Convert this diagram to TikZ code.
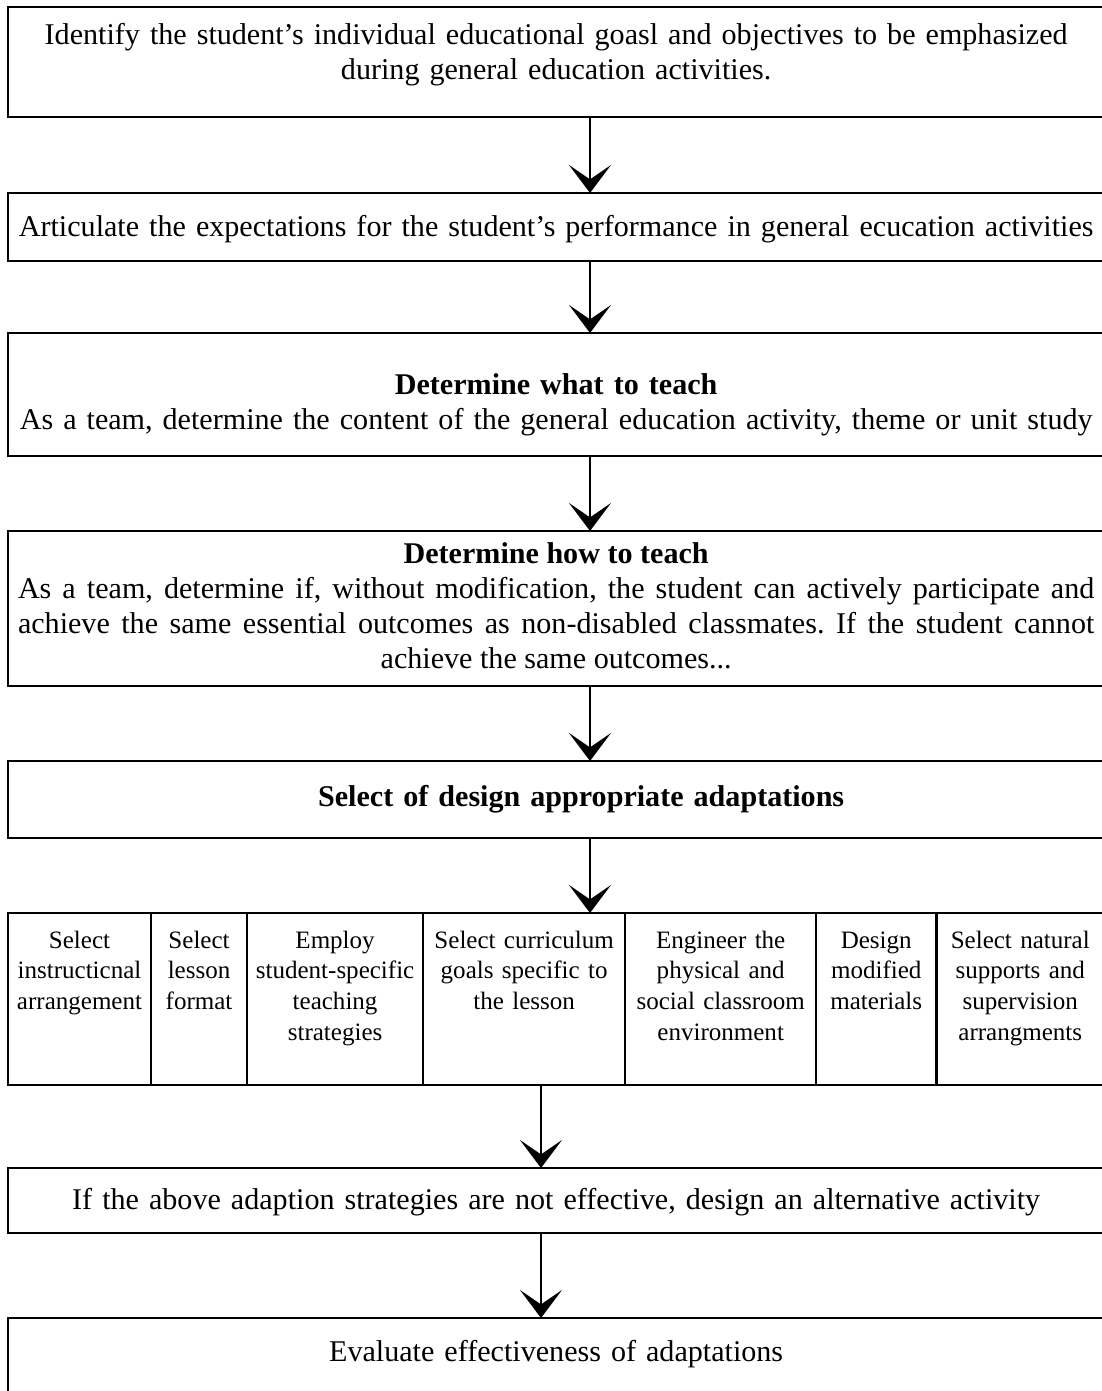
\documentclass[tikz,border=0pt]{standalone}
\usepackage{fontspec}
\setmainfont{Liberation Serif}
\usetikzlibrary{arrows.meta,positioning}
\frenchspacing

\newcommand{\boxfont}{\fontsize{21.4}{24.9}\selectfont}
\newcommand{\cellfont}{\fontsize{17.8}{22}\selectfont}
\newcommand{\lastcentred}{\leftskip=0pt plus .5fil\rightskip=0pt plus -.5fil\parfillskip=0pt plus 1fil\relax}

\tikzset{
  stage/.style={draw, line width=1.8pt, anchor=north west, inner sep=0pt, outer sep=0pt,
    text width=27.4cm, align=center, font=\boxfont},
  adapt/.style={draw, line width=1.8pt, inner sep=0pt, outer sep=0pt, text width=#1,
    align=center, text height=0.875cm, text depth=3.425cm, font=\cellfont},
  flow/.style={line width=1.9pt, -{Stealth[length=0.7cm, width=1.05cm, inset=0.36cm]}}
}

\begin{document}
\begin{tikzpicture}[x=0.025cm, y=-0.025cm]
  \fill[white, use as bounding box] (0,0) rectangle (1101,1391);
  \coordinate (spine) at (590,0);
  \coordinate (spinelow) at (541,0);

  % planning steps
  \node[stage, text height=0.925cm, text depth=1.825cm] (goals) at (8,7)
    {Identify the student's individual educational goasl and objectives to be emphasized\\
     during general education activities.};
  \node[stage, text height=1.075cm, text depth=0.625cm] (expect) at (8,193)
    {Articulate the expectations for the student's performance in general ecucation activities};
  \node[stage, text height=1.525cm, text depth=1.55cm] (whatteach) at (8,333)
    {{\bfseries Determine what to teach}\\
     As a team, determine the content of the general education activity, theme or unit study};
  \node[stage, align=justify, inner xsep=0.25cm, text width=26.9cm, text height=0.8cm, text depth=3.075cm] (howteach) at (8,531)
    {\makebox[\linewidth]{\bfseries Determine how to teach}\par
     \lastcentred As a team, determine if, without modification, the student can actively participate and\linebreak
     achieve the same essential outcomes as non-disabled classmates. If the student cannot\linebreak
     achieve the same outcomes...\par};
  \node[stage, text width=28.65cm, text height=1.125cm, text depth=0.8cm] (choose) at (8,761)
    {\bfseries Select of design appropriate adaptations};

  % adaptation options
  \node[adapt=3.575cm, anchor=north west] (arrange) at (8,913) {Select\\ instructicnal\\ arrangement};
  \node[adapt=2.4cm, right=0pt of arrange] (format) {Select\\ lesson\\ format};
  \node[adapt=4.4cm, right=0pt of format] (strategy) {Employ\\ student-specific\\ teaching\\ strategies};
  \node[adapt=5.05cm, right=0pt of strategy] (curric) {Select curriculum\\ goals specific to\\ the lesson};
  \node[adapt=4.775cm, right=0pt of curric] (environ) {Engineer the\\ physical and\\ social classroom\\ environment};
  \node[adapt=3cm, right=0pt of environ] (material) {Design\\ modified\\ materials};
  \node[adapt=4.2cm, right=0pt of material] (support) {Select natural\\ supports and\\ supervision\\ arrangments};

  \node[stage, text height=1.025cm, text depth=0.6cm] (altern) at (8,1168)
    {If the above adaption strategies are not effective, design an alternative activity};
  \node[stage, text height=1.075cm, text depth=0.975cm] (evaluate) at (8,1318)
    {Evaluate effectiveness of adaptations};

  % arrows
  \draw[flow] (goals.south -| spine) -- (expect.north -| spine);
  \draw[flow] (expect.south -| spine) -- (whatteach.north -| spine);
  \draw[flow] (whatteach.south -| spine) -- (howteach.north -| spine);
  \draw[flow] (howteach.south -| spine) -- (choose.north -| spine);
  \draw[flow] (choose.south -| spine) -- (curric.north -| spine);
  \draw[flow] (curric.south -| spinelow) -- (altern.north -| spinelow);
  \draw[flow] (altern.south -| spinelow) -- (evaluate.north -| spinelow);
\end{tikzpicture}
\end{document}
